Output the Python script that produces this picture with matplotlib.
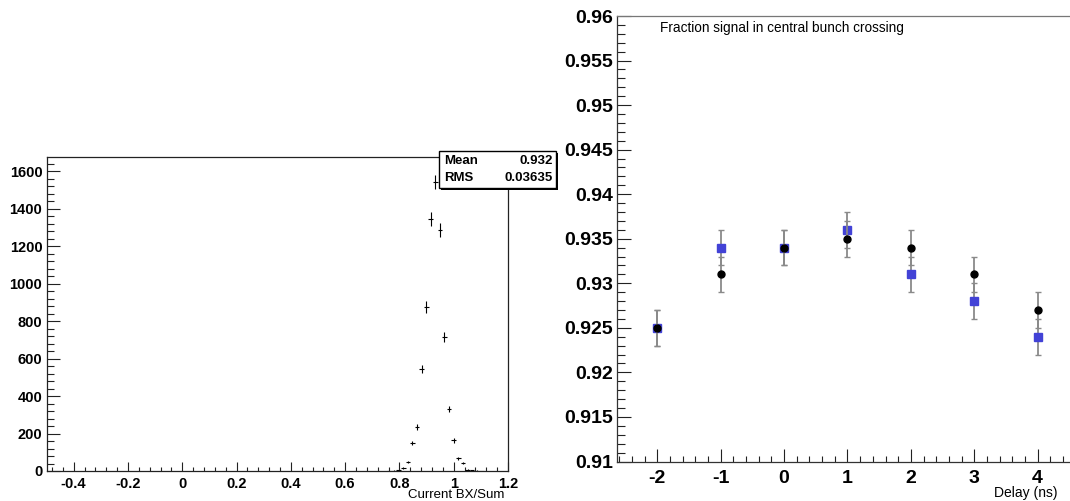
import numpy as np
import matplotlib
matplotlib.use('Agg')
import matplotlib.pyplot as plt
from matplotlib.ticker import MultipleLocator
from matplotlib.patches import Rectangle

plt.rcParams['font.family'] = ['Liberation Sans', 'DejaVu Sans']
plt.rcParams['axes.unicode_minus'] = False

# ---------------- data: left histogram ----------------
bin_centers = [0.763, 0.780, 0.797, 0.815, 0.831, 0.848, 0.865, 0.882, 0.899,
               0.915, 0.932, 0.949, 0.966, 0.983, 1.000, 1.017, 1.034, 1.051,
               1.068, 1.085, 1.102]
bin_counts = [1, 2, 3, 16, 48, 149, 235, 544, 875,
              1344, 1541, 1285, 715, 331, 165, 69, 43, 8,
              4, 2, 1]
bin_errors = [1, 1.4, 1.7, 4, 7, 12, 15, 23, 30,
              37, 39, 36, 27, 18, 13, 8, 6.5, 2.8,
              2, 1.4, 1]
bin_halfwidth = 0.0085
stat_mean = "0.932"
stat_rms = "0.03635"
left_xticks = [-0.4, -0.2, 0, 0.2, 0.4, 0.6, 0.8, 1, 1.2]
left_xticklabels = ['-0.4', '-0.2', '0', '0.2', '0.4', '0.6', '0.8', '1', '1.2']

# ---------------- data: right panel ----------------
delay = [-2, -1, 0, 1, 2, 3, 4]
delay_labels = ['-2', '-1', '0', '1', '2', '3', '4']
frac_black = [0.925, 0.931, 0.934, 0.935, 0.934, 0.931, 0.927]
err_black = [0.002, 0.002, 0.002, 0.002, 0.002, 0.002, 0.002]
frac_blue = [0.925, 0.934, 0.934, 0.936, 0.931, 0.928, 0.924]
err_blue = [0.002, 0.002, 0.002, 0.002, 0.002, 0.002, 0.002]
right_yticks = [0.91, 0.915, 0.92, 0.925, 0.93, 0.935, 0.94, 0.945, 0.95, 0.955, 0.96]
right_yticklabels = ['0.91', '0.915', '0.92', '0.925', '0.93', '0.935', '0.94',
                     '0.945', '0.95', '0.955', '0.96']

W, H = 1070, 501
fig = plt.figure(figsize=(W / 100, H / 100), dpi=100)


def px_axes(l, t, r, b):
    return fig.add_axes([l / W, 1 - b / H, (r - l) / W, (b - t) / H])


def px2pt(p):
    return p * 0.72


# ---------------- left panel ----------------
axL = px_axes(46.5, 157, 508, 471)
axL.errorbar(bin_centers, bin_counts, xerr=bin_halfwidth, yerr=bin_errors,
             fmt='none', ecolor='black', elinewidth=0.8, capsize=0)
axL.set_xlim(-0.5, 1.2)
axL.set_ylim(0, 1675)
axL.set_xticks(left_xticks)
axL.set_xticklabels(left_xticklabels)
axL.xaxis.set_minor_locator(MultipleLocator(0.04))
axL.yaxis.set_major_locator(MultipleLocator(200))
axL.yaxis.set_minor_locator(MultipleLocator(40))
axL.tick_params(axis='both', which='both', direction='in', width=0.8,
                colors='#222222', labelcolor='black')
axL.tick_params(axis='y', which='major', length=px2pt(13), pad=3.0, labelsize=10.5)
axL.tick_params(axis='y', which='minor', length=px2pt(6.5))
axL.tick_params(axis='x', which='major', length=px2pt(9), pad=4.0, labelsize=10.5)
axL.tick_params(axis='x', which='minor', length=px2pt(4.5))
for lab in axL.get_xticklabels() + axL.get_yticklabels():
    lab.set_fontweight('bold')
for s in axL.spines.values():
    s.set_linewidth(0.9)
    s.set_color('#222222')
fig.text(504 / W, 1 - 498 / H, 'Current BX/Sum', ha='right', va='baseline', fontsize=9.5)

# stats box
bx0, by0, bx1, by1 = 439, 151, 556, 188
fig.patches.append(Rectangle((bx0 / W + 2 / W, 1 - (by1 + 2) / H), (bx1 - bx0) / W, (by1 - by0) / H,
                             transform=fig.transFigure, facecolor='black', edgecolor='black',
                             linewidth=0, zorder=5))
fig.patches.append(Rectangle((bx0 / W, 1 - by1 / H), (bx1 - bx0) / W, (by1 - by0) / H,
                             transform=fig.transFigure, facecolor='white', edgecolor='black',
                             linewidth=1, zorder=6))
for ypx, name, val in [(161, 'Mean', stat_mean), (178, 'RMS', stat_rms)]:
    fig.text(444 / W, 1 - ypx / H, name, ha='left', va='center', fontsize=9.5,
             fontweight='bold', zorder=7)
    fig.text(553 / W, 1 - ypx / H, val, ha='right', va='center', fontsize=9.5,
             fontweight='bold', zorder=7)

# ---------------- right panel ----------------
axR = px_axes(617, 16, 1070, 461.5)
blue = '#4242d6'
for vals, errs, mk, col, ms, z in [(frac_blue, err_blue, 's', blue, 5.2, 3),
                                   (frac_black, err_black, 'o', 'black', 5.0, 4)]:
    cont = axR.errorbar(delay, vals, yerr=errs, fmt=mk, color=col, markersize=ms,
                        ecolor='#8a8a8a', elinewidth=1.3, capsize=2.2, capthick=1.0,
                        zorder=z)
    for cl in cont[1]:
        cl.set_color('black')
axR.set_xlim(-2.636, 4.51)
axR.set_ylim(0.91, 0.96)
axR.set_xticks(delay)
axR.set_xticklabels(delay_labels)
axR.xaxis.set_minor_locator(MultipleLocator(0.2))
axR.set_yticks(right_yticks)
axR.set_yticklabels(right_yticklabels)
axR.yaxis.set_minor_locator(MultipleLocator(0.001))
axR.tick_params(axis='both', which='both', direction='in', width=0.8,
                colors='#222222', labelcolor='black')
axR.tick_params(axis='y', which='major', length=px2pt(14), pad=3, labelsize=14)
axR.tick_params(axis='y', which='minor', length=px2pt(7.5))
axR.tick_params(axis='x', which='major', length=px2pt(13), pad=6, labelsize=14)
axR.tick_params(axis='x', which='minor', length=px2pt(6))
for lab in axR.get_xticklabels() + axR.get_yticklabels():
    lab.set_fontweight('bold')
axR.spines['right'].set_visible(False)
for s in axR.spines.values():
    s.set_linewidth(0.9)
    s.set_color('#333333')
axR.spines['top'].set_color('#777777')
fig.text(660 / W, 1 - 28 / H, 'Fraction signal in central bunch crossing',
         ha='left', va='center', fontsize=9.8)
fig.text(1058 / W, 1 - 497 / H, 'Delay (ns)', ha='right', va='baseline', fontsize=10)

fig.savefig('out.png', dpi=100)
